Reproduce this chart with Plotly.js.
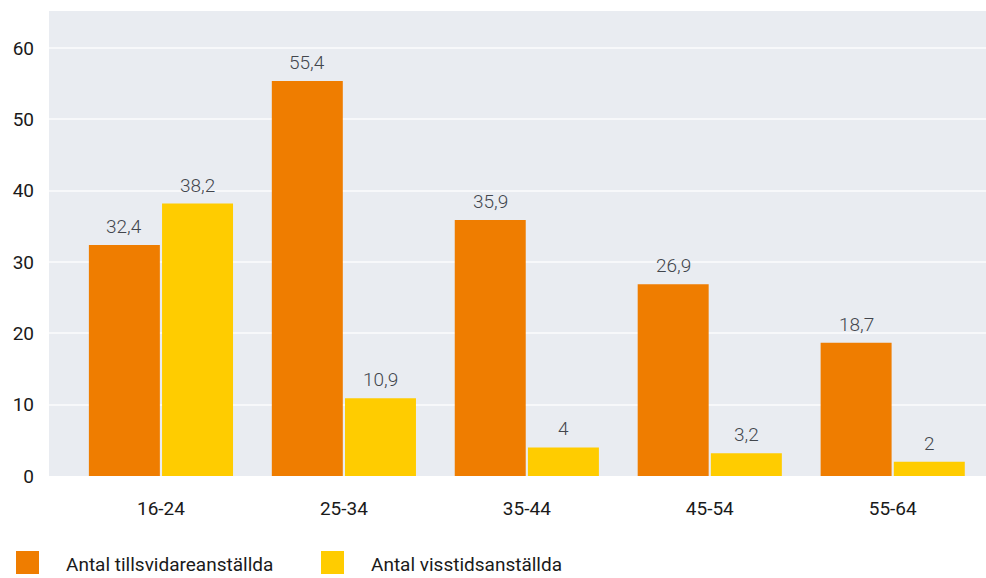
<!DOCTYPE html>
<html>
<head>
<meta charset="utf-8">
<script src="https://cdn.plot.ly/plotly-3.0.1.min.js"></script>
<style>
  html, body { margin: 0; padding: 0; background: #ffffff; }
  #chart { width: 986px; height: 578px; }
</style>
</head>
<body>
<div id="chart"></div>
<script>
// Age groups and employment counts per group
const ageGroups = ['16-24', '25-34', '35-44', '45-54', '55-64'];
const permanent = [32.4, 55.4, 35.9, 26.9, 18.7];
const temporary = [38.2, 10.9, 4, 3.2, 2];
const seriesNames = ['Antal tillsvidareanställda', 'Antal visstidsanställda'];
const seriesColors = ['#EF7D00', '#FFCC00'];
const yTicks = [0, 10, 20, 30, 40, 50, 60];

const fmt = v => String(v).replace('.', ',');

const family = 'Roboto, "Open Sans", sans-serif';
const labelFont = { family: family, size: 19, color: '#42464d', weight: 300 };
const tickFont = { family: family, size: 19, color: '#1a1a1a' };

const W = 986, H = 578;
const margin = { l: 49, r: 0, t: 11, b: 102 };
const pw = W - margin.l - margin.r, ph = H - margin.t - margin.b;
const xRange = [-0.612, 4.51];
const bargap = 0.2;

const seriesValues = [permanent, temporary];
const traces = seriesValues.map((vals, i) => ({
  type: 'bar',
  name: seriesNames[i],
  x: ageGroups,
  y: vals,
  marker: { color: seriesColors[i] },
  hoverinfo: 'x+y',
  showlegend: false
}));

// Value labels above each bar, shifted sideways to the bar's slot in its group
const pxPerCat = pw / (xRange[1] - xRange[0]);
const slot = pxPerCat * (1 - bargap) / seriesValues.length;
const annotations = [];
seriesValues.forEach((vals, i) => {
  const shift = (i - (seriesValues.length - 1) / 2) * slot;
  vals.forEach((v, j) => {
    annotations.push({
      x: ageGroups[j], y: v, xref: 'x', yref: 'y',
      xanchor: 'center', yanchor: 'bottom',
      xshift: shift, yshift: 5,
      text: fmt(v), showarrow: false,
      font: labelFont
    });
  });
});

// Legend drawn as large swatches with text beside them
const px = x => (x - margin.l) / pw;
const py = y => (H - margin.b - y) / ph;
const legendX = [16, 321];
const shapes = [];
seriesNames.forEach((n, i) => {
  shapes.push({
    type: 'rect', xref: 'paper', yref: 'paper',
    x0: px(legendX[i]), x1: px(legendX[i] + 23),
    y0: py(574), y1: py(551),
    line: { width: 0 }, fillcolor: seriesColors[i]
  });
  annotations.push({
    xref: 'paper', yref: 'paper',
    x: px(legendX[i] + 48), y: py(564),
    xanchor: 'left', yanchor: 'middle',
    text: n, showarrow: false,
    font: { family: family, size: 19, color: '#1a1a1a' }
  });
});

const layout = {
  width: W, height: H,
  margin: margin,
  paper_bgcolor: '#ffffff',
  plot_bgcolor: '#E9ECF1',
  barmode: 'group',
  bargap: bargap,
  bargroupgap: 0.03,
  xaxis: {
    type: 'category',
    range: xRange,
    showgrid: false,
    zeroline: false,
    showline: false,
    ticks: '',
    tickfont: tickFont,
    ticklabelstandoff: 19
  },
  yaxis: {
    range: [0, 65.2],
    tickvals: yTicks,
    showgrid: true,
    gridcolor: '#F7F8FA',
    gridwidth: 2,
    zeroline: false,
    showline: false,
    ticks: '',
    tickfont: tickFont,
    ticklabelstandoff: 14
  },
  shapes: shapes,
  annotations: annotations,
  showlegend: false,
  font: { family: family }
};

Plotly.newPlot('chart', traces, layout, { displayModeBar: false, staticPlot: true });
</script>
</body>
</html>
